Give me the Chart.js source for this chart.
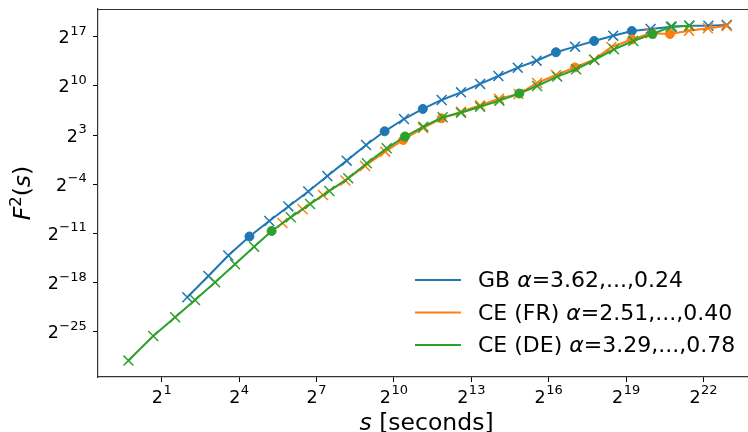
<!DOCTYPE html>
<html>
<head>
<meta charset="utf-8">
<script src="https://cdn.jsdelivr.net/npm/chart.js@4/dist/chart.umd.min.js"></script>
<style>
  html, body { margin: 0; padding: 0; background: #fff; overflow: hidden; }
  canvas { display: block; }
</style>
</head>
<body>
<canvas id="c" width="748" height="432"></canvas>
<script>
// Fluctuation function F^2(s) against window length s, both stored as log2 values.
const gbLog2S = [1.99, 2.81, 3.58, 4.40, 5.17, 5.91, 6.68, 7.42, 8.17, 8.92, 9.64, 10.39, 11.12, 11.85, 12.60,
                 13.34, 14.05, 14.80, 15.53, 16.28, 17.02, 17.76, 18.50, 19.22, 19.95, 20.77, 21.45, 22.19, 22.90];
const gbLog2F = [-20.10, -17.07, -14.15, -11.45, -9.24, -7.17, -5.04, -2.83, -0.65, 1.58, 3.53, 5.28, 6.71, 7.99, 9.08,
                 10.27, 11.40, 12.59, 13.58, 14.78, 15.58, 16.39, 17.14, 17.81, 18.10, 18.42, 18.57, 18.57, 18.67];
const gbBreakIdx = [3, 10, 12, 19, 21, 23];

const frLog2S = [5.68, 6.46, 7.25, 8.12, 8.88, 9.66, 10.36, 11.13, 11.85, 12.60, 13.34, 14.07, 14.83, 15.55, 16.28,
                 17.02, 17.76, 18.43, 19.22, 19.95, 20.70, 21.44, 22.17, 22.90];
const frLog2F = [-9.52, -7.57, -5.54, -3.47, -1.41, 0.63, 2.29, 4.00, 5.38, 6.32, 7.23, 8.17, 8.84, 10.41, 11.55,
                 12.62, 13.75, 15.53, 16.60, 17.48, 17.38, 17.85, 18.20, 18.52];
const frBreakIdx = [6, 8, 15, 18, 20];

const deLog2S = [-0.29, 0.67, 1.52, 2.29, 3.07, 3.84, 4.58, 5.26, 6.00, 6.75, 7.50, 8.23, 8.95, 9.72, 10.43,
                 11.14, 11.89, 12.60, 13.34, 14.09, 14.86, 15.55, 16.33, 17.06, 17.77, 18.53, 19.28, 20.02, 20.73, 21.45];
const deLog2F = [-29.11, -25.61, -22.95, -20.49, -17.97, -15.40, -12.90, -10.66, -8.71, -6.82, -4.97, -3.16, -1.02, 1.11, 2.79,
                 4.19, 5.53, 6.18, 7.03, 7.89, 8.91, 9.98, 11.31, 12.36, 13.68, 15.21, 16.39, 17.38, 18.42, 18.57];
const deBreakIdx = [7, 14, 20, 27];

const seriesLabels = ['GB \u03b1=3.62,...,0.24', 'CE (FR) \u03b1=2.51,...,0.40', 'CE (DE) \u03b1=3.29,...,0.78'];
const seriesColors = ['#1f77b4', '#ff7f0e', '#2ca02c'];

// Axis ranges and tick positions as powers of two
const xRangeLog2 = [-1.47, 23.725];
const yRangeLog2 = [-31.45, 20.94];
const xTickLog2 = [1, 4, 7, 10, 13, 16, 19, 22];
const yTickLog2 = [-25, -18, -11, -4, 3, 10, 17];

const FONT = "'DejaVu Sans', sans-serif";
const TICK_SIZE = 17.5, SUP_SIZE = 13;
const exponentOf = v => Math.round(Math.log2(v));

const toPoints = (lx, ly) => lx.map((e, i) => ({ x: Math.pow(2, e), y: Math.pow(2, ly[i]) }));

function makeDataset(i, lx, ly, breaks, order) {
  const isBreak = c => breaks.includes(c.dataIndex);
  return {
    label: seriesLabels[i],
    data: toPoints(lx, ly),
    showLine: true,
    borderColor: seriesColors[i],
    backgroundColor: seriesColors[i],
    borderWidth: 2,
    tension: 0,
    order: order,
    pointBackgroundColor: seriesColors[i],
    pointBorderColor: seriesColors[i],
    pointStyle: c => isBreak(c) ? 'circle' : 'crossRot',
    pointRadius: c => isBreak(c) ? 4.5 : 7,
    pointHoverRadius: c => isBreak(c) ? 4.5 : 7,
    pointBorderWidth: c => isBreak(c) ? 1 : 1.5
  };
}

// Draws "2" with a raised exponent, aligned by its full width.
function drawPower(ctx, exp, x, baseline, align) {
  const base = '2';
  const sup = String(exp).replace('-', '\u2212');
  ctx.font = `${TICK_SIZE}px ${FONT}`;
  const wb = ctx.measureText(base).width;
  ctx.font = `${SUP_SIZE}px ${FONT}`;
  const ws = ctx.measureText(sup).width;
  const total = wb + ws + 0.5;
  let x0 = align === 'center' ? x - total / 2 : (align === 'right' ? x - total : x);
  ctx.textAlign = 'left';
  ctx.textBaseline = 'alphabetic';
  ctx.font = `${TICK_SIZE}px ${FONT}`;
  ctx.fillText(base, x0, baseline);
  ctx.font = `${SUP_SIZE}px ${FONT}`;
  ctx.fillText(sup, x0 + wb + 0.5, baseline - 8.6);
}

// Tick labels as powers of two, top frame line, axis titles and the legend
const decorations = {
  id: 'decorations',
  afterDraw(chart) {
    const { ctx, chartArea: a } = chart;
    const xs = chart.scales.x, ys = chart.scales.y;
    ctx.save();
    ctx.strokeStyle = '#333';
    ctx.lineWidth = 1.2;
    ctx.beginPath();
    ctx.moveTo(a.left, a.top + 0.5);
    ctx.lineTo(a.right, a.top + 0.5);
    ctx.stroke();

    ctx.fillStyle = '#000';
    xs.ticks.forEach(t => drawPower(ctx, exponentOf(t.value), xs.getPixelForValue(t.value), a.bottom + 26, 'center'));
    ys.ticks.forEach(t => drawPower(ctx, exponentOf(t.value), a.left - 11.3, ys.getPixelForValue(t.value) + 6.6, 'right'));

    const drawRuns = (runs, x, y, align) => {
      let total = 0;
      runs.forEach(r => { ctx.font = r.font; r.w = ctx.measureText(r.t).width; total += r.w; });
      let cx = align === 'center' ? x - total / 2 : x;
      ctx.textAlign = 'left';
      ctx.textBaseline = 'alphabetic';
      runs.forEach(r => { ctx.font = r.font; ctx.fillText(r.t, cx, y + (r.dy || 0)); cx += r.w; });
    };

    const big = 23.5;
    const up = `${big}px ${FONT}`, it = `italic ${big}px ${FONT}`, sm = `${big * 0.7}px ${FONT}`;
    // x-axis title, centred on the full axes box (its right edge lies just past the canvas)
    drawRuns([{ t: 's', font: it }, { t: ' [seconds]', font: up }], (a.left + a.right) / 2 + 3.5, 430, 'center');
    // y-axis title
    ctx.save();
    ctx.translate(22, (a.top + a.bottom) / 2);
    ctx.rotate(-Math.PI / 2);
    drawRuns([{ t: 'F', font: it }, { t: '2', font: sm, dy: -9 }, { t: '(', font: up }, { t: 's', font: it }, { t: ')', font: up }], 0, 8, 'center');
    ctx.restore();

    // legend, lower right inside the axes
    const lf = 22;
    const x0 = a.right - 333;
    const rows = [a.bottom - 97, a.bottom - 64.5, a.bottom - 32];
    chart.data.datasets.forEach((ds, i) => {
      const y = rows[i];
      ctx.strokeStyle = ds.borderColor;
      ctx.lineWidth = 2;
      ctx.beginPath();
      ctx.moveTo(x0, y);
      ctx.lineTo(x0 + 46, y);
      ctx.stroke();
      const parts = ds.label.split('\u03b1');
      ctx.fillStyle = '#000';
      drawRuns([{ t: parts[0], font: `${lf}px ${FONT}` }, { t: '\u03b1', font: `italic ${lf}px ${FONT}` },
                { t: parts[1], font: `${lf}px ${FONT}` }], x0 + 63, y + 7, 'left');
    });
    ctx.restore();
  }
};

const axisCommon = {
  type: 'logarithmic',
  ticks: { display: false, autoSkip: false },
  grid: { drawOnChartArea: false, drawTicks: true, tickLength: 5, tickColor: '#000', tickWidth: 1 },
  border: { display: true, color: '#333', width: 1.2 }
};

new Chart(document.getElementById('c'), {
  type: 'scatter',
  data: {
    datasets: [
      makeDataset(0, gbLog2S, gbLog2F, gbBreakIdx, 3),
      makeDataset(1, frLog2S, frLog2F, frBreakIdx, 2),
      makeDataset(2, deLog2S, deLog2F, deBreakIdx, 1)
    ]
  },
  options: {
    responsive: false,
    animation: false,
    devicePixelRatio: 1,
    layout: { autoPadding: false, padding: { top: 9, right: 0, left: 0, bottom: 0 } },
    plugins: { legend: { display: false }, tooltip: { enabled: false } },
    scales: {
      x: Object.assign({}, axisCommon, {
        min: Math.pow(2, xRangeLog2[0]),
        max: Math.pow(2, xRangeLog2[1]),
        afterBuildTicks: s => { s.ticks = xTickLog2.map(e => ({ value: Math.pow(2, e) })); },
        afterFit: s => { s.height = 55; s.paddingLeft = 0; s.paddingRight = 0; }
      }),
      y: Object.assign({}, axisCommon, {
        min: Math.pow(2, yRangeLog2[0]),
        max: Math.pow(2, yRangeLog2[1]),
        afterBuildTicks: s => { s.ticks = yTickLog2.map(e => ({ value: Math.pow(2, e) })); },
        afterFit: s => { s.width = 98; s.paddingTop = 0; s.paddingBottom = 0; }
      })
    }
  },
  plugins: [decorations]
});
</script>
</body>
</html>
